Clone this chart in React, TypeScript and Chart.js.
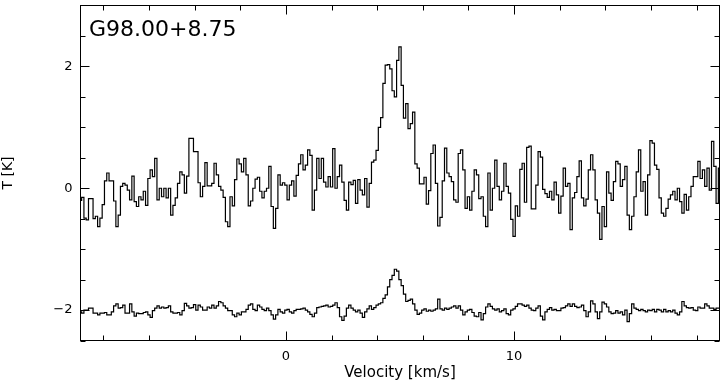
import React, { useEffect, useRef } from "react";
import Chart from "chart.js/auto";

// ---- data ----
const TITLE = "G98.00+8.75";
const X_TITLE = "Velocity [km/s]";
const Y_TITLE = "T [K]";
const X_MIN = -9;
const X_MAX = 19;
const Y_MIN = -2.5;
const Y_MAX = 3;
const X_TICKS = [-8, -6, -4, -2, 0, 2, 4, 6, 8, 10, 12, 14, 16, 18];
const Y_TICKS = [-2.5, -2, -1.5, -1, -0.5, 0, 0.5, 1, 1.5, 2, 2.5];
const X_LABELED = [0, 10];
const Y_LABELED = [-2, 0, 2];
const V_START = -9; // first channel velocity (km/s)
const V_STEP = 0.1; // channel width (km/s)

const UPPER = [
  -0.2, -0.15, -0.49, -0.52, -0.17, -0.17, -0.5, -0.46, -0.63, -0.49,
  -0.27, 0.12, 0.25, 0.12, 0.12, -0.21, -0.63, -0.44, 0.03, 0.08,
  0.05, -0.03, -0.19, 0.2, -0.22, -0.3, -0.14, -0.19, -0.05, -0.28,
  0.16, 0.3, 0.19, 0.49, -0.19, 0, -0.14, 0, -0.16, 0,
  -0.44, -0.28, -0.16, 0.08, 0.27, 0.22, -0.08, 0.2, 0.82, 0.82,
  0.6, 0.6, 0.09, -0.14, 0.03, 0.42, 0.04, 0.04, 0.08, 0.41,
  0.22, 0.03, -0.03, -0.15, -0.55, -0.63, -0.14, -0.29, 0.14, 0.48,
  0.4, 0.27, 0.49, 0.22, -0.29, -0.21, 0, 0.15, 0.18, -0.05,
  -0.16, -0.05, 0, 0.36, -0.3, -0.66, -0.33, 0.22, 0.05, 0.09,
  0.05, -0.19, 0.05, 0.12, -0.13, 0.21, 0.4, 0.55, 0.3, 0.38,
  0.63, 0.54, -0.36, -0.03, 0.49, 0.16, 0.49, 0.1, 0.02, 0.19,
  0.02, 0.65, 0, 0.19, 0.38, 0.1, -0.2, -0.36, 0.1, 0.06,
  0.13, -0.25, 0.14, -0.03, -0.11, 0.16, -0.31, 0.08, 0.43, 0.46,
  0.62, 1.0, 1.16, 1.72, 2.02, 2.03, 1.96, 1.6, 1.5, 2.1,
  2.32, 1.69, 1.15, 1.39, 0.98, 1.06, 1.25, 0.4, 0.33, 0.07,
  0.07, 0.18, -0.26, -0.04, 0.57, 0.71, 0.08, -0.62, -0.48, 0.12,
  0.66, 0.25, 0.19, 0.11, -0.19, -0.23, 0.57, 0.63, 0.3, -0.33,
  -0.14, -0.36, -0.05, 0.3, 0.22, -0.17, -0.14, -0.46, -0.63, 0.25,
  -0.36, 0, 0.46, 0.03, -0.19, -0.05, 0.41, 0.03, -0.08, -0.51,
  -0.79, -0.29, -0.46, 0.31, 0.41, -0.23, 0.67, 0.69, -0.34, -0.34,
  0.05, 0.6, 0.51, -0.02, -0.09, -0.15, -0.05, -0.19, 0.1, -0.11,
  -0.41, -0.13, 0.33, 0.03, 0.08, -0.68, -0.16, -0.07, 0.19, 0.45,
  -0.16, -0.29, -0.18, 0.3, 0.55, 0.3, -0.19, -0.41, -0.84, -0.3,
  -0.63, 0.27, -0.08, -0.2, 0.11, 0.44, 0.4, 0.03, 0.14, 0.36,
  -0.44, -0.68, -0.46, -0.14, 0.27, 0.63, -0.05, 0.11, -0.44, 0.22,
  0.78, 0.74, 0.38, 0.31, -0.16, -0.41, -0.46, -0.33, -0.18, -0.11,
  -0.05, -0.19, 0, -0.22, -0.41, -0.1, -0.36, -0.14, 0.03, 0.19,
  0.19, 0.44, 0.16, 0.3, 0.03, 0.33, -0.03, 0.77, 0.36, -0.25,
  0.33,
];

const LOWER = [
  -2.03, -2.05, -2.0, -2.0, -1.97, -1.97, -2.05, -2.05, -2.08, -2.05,
  -2.05, -2.04, -2.08, -2.08, -2.03, -1.93, -1.9, -1.97, -1.96, -1.92,
  -2.05, -2.05, -1.9, -2.03, -2.1, -2.05, -2.06, -2.06, -2.04, -2.03,
  -2.08, -2.12, -2.01, -1.97, -1.93, -1.97, -1.95, -1.97, -1.96, -1.93,
  -2.03, -2.05, -2.05, -2.04, -2.08, -2.01, -1.89, -1.93, -1.97, -1.96,
  -1.91, -2.0, -1.92, -1.95, -2.0, -2.0, -1.95, -1.97, -1.92, -1.97,
  -1.93, -1.86, -1.88, -1.93, -1.97, -2.01, -2.01, -2.08, -2.11, -2.05,
  -2.08, -2.03, -2.03, -1.99, -1.92, -1.9, -1.99, -2.01, -1.92, -1.95,
  -1.99, -2.01, -1.97, -2.01, -2.08, -2.15, -2.08, -1.99, -2.03, -2.05,
  -2.0, -1.99, -2.03, -2.05, -2.01, -1.99, -1.99, -1.98, -1.97, -2.0,
  -2.03, -2.07, -2.11, -2.05, -1.96, -1.95, -1.94, -1.93, -1.92, -1.95,
  -1.94, -1.92, -1.88, -1.96, -2.11, -2.17, -2.1, -1.97, -1.92, -1.97,
  -2.0, -2.03, -2.0, -2.05, -2.12, -2.03, -1.98, -1.93, -1.99, -1.96,
  -1.92, -1.9, -1.88, -1.81, -1.75, -1.62, -1.5, -1.43, -1.33, -1.36,
  -1.5, -1.6, -1.74, -1.86, -1.84, -1.82, -1.9, -2.0, -2.07, -2.05,
  -2.0, -1.98, -2.02, -2.0, -2.02, -2.0, -1.98, -1.82, -1.98, -2.0,
  -1.97, -1.99, -1.97, -1.95, -1.93, -1.97, -1.93, -2.0, -2.08, -2.03,
  -2.0, -1.99, -2.04, -2.1, -2.11, -2.04, -2.16, -2.06, -1.95, -1.9,
  -1.94, -1.98, -2.0, -1.98, -2.03, -2.01, -1.98, -2.06, -2.08, -2.0,
  -1.98, -1.94, -1.9, -1.9, -1.92, -1.94, -1.92, -1.97, -2.0, -2.01,
  -1.97, -1.93, -2.1, -2.16, -2.03, -1.99, -1.96, -2.0, -1.99, -2.01,
  -2.01, -1.97, -1.96, -1.93, -1.9, -1.94, -1.9, -1.94, -1.96, -1.95,
  -1.92, -2.01, -2.11, -2.03, -1.85, -1.9, -2.03, -2.14, -2.03, -1.87,
  -1.9, -1.95, -2.03, -2.06, -2.05, -2.01, -2.05, -2.03, -2.08, -2.0,
  -2.19, -2.06, -1.9, -1.97, -1.99, -2.01, -1.99, -2.01, -2.03, -2.0,
  -2.01, -1.99, -2.03, -1.99, -2.0, -2.03, -1.99, -2.03, -2.01, -2.03,
  -2.0, -2.05, -2.08, -2.03, -1.86, -1.93, -1.96, -1.97, -1.96, -2.0,
  -2.01, -1.95, -1.97, -1.97, -1.9, -1.93, -1.97, -1.97, -1.99, -1.97,
  -1.97,
];

const FONT_FAMILY = '"DejaVu Sans", "Liberation Sans", sans-serif';

function fmtLabel(v: number): string {
  const r = Math.round(v);
  return r < 0 ? "\u2212" + Math.abs(r) : String(r);
}
function isIn(list: number[], v: number) {
  return list.some((l) => Math.abs(l - v) < 1e-6);
}

const framePlugin = {
  id: "frameTicks",
  afterDatasetsDraw(chart: any) {
    const { ctx, chartArea } = chart;
    const { left, right, top, bottom } = chartArea;
    const xs = chart.scales.x;
    const ys = chart.scales.y;
    ctx.save();
    ctx.strokeStyle = "#000";
    ctx.lineWidth = 1;
    ctx.strokeRect(left, top, right - left, bottom - top);
    ctx.beginPath();
    xs.ticks.forEach((t: any) => {
      const px = Math.round(xs.getPixelForValue(t.value)) + 0.5;
      const major = isIn(X_LABELED, t.value);
      const len = major ? 9 : 5;
      ctx.moveTo(px, bottom);
      ctx.lineTo(px, bottom - len);
      ctx.moveTo(px, top);
      ctx.lineTo(px, top + len);
    });
    ys.ticks.forEach((t: any) => {
      const py = Math.round(ys.getPixelForValue(t.value)) + 0.5;
      const major = isIn(Y_LABELED, t.value);
      const len = major ? 9 : 5;
      ctx.moveTo(left, py);
      ctx.lineTo(left + len, py);
      ctx.moveTo(right, py);
      ctx.lineTo(right - len, py);
    });
    ctx.stroke();
    ctx.fillStyle = "#000";
    ctx.font = "22px " + FONT_FAMILY;
    ctx.textBaseline = "alphabetic";
    ctx.textAlign = "left";
    ctx.fillText(TITLE, left + 8.5, top + 30);
    ctx.restore();
  },
};

export default function App() {
  const ref = useRef<HTMLCanvasElement | null>(null);

  useEffect(() => {
    if (!ref.current) return;
    const velocity = UPPER.map((_, i) => +(V_START + i * V_STEP).toFixed(3));
    const upper = UPPER.map((y, i) => ({ x: velocity[i], y }));
    const lower = LOWER.map((y, i) => ({ x: velocity[i], y }));
    const tickFont = { family: FONT_FAMILY, size: 13 };
    const chart = new Chart(ref.current, {
      type: "line",
      data: {
        datasets: [
          {
            data: upper,
            borderColor: "#000",
            borderWidth: 1.2,
            pointRadius: 0,
            stepped: "middle",
            fill: false,
          },
          {
            data: lower,
            borderColor: "#000",
            borderWidth: 1.2,
            pointRadius: 0,
            stepped: "middle",
            fill: false,
          },
        ],
      },
      options: {
        animation: false,
        responsive: false,
        devicePixelRatio: 1,
        layout: { padding: { top: 5.5, right: 4.5, left: 0, bottom: 0 } },
        plugins: {
          legend: { display: false },
          tooltip: { enabled: false },
        },
        scales: {
          x: {
            type: "linear",
            min: X_MIN,
            max: X_MAX,
            grid: { display: false, drawTicks: false },
            border: { display: false },
            afterBuildTicks: (s: any) => {
              s.ticks = X_TICKS.map((value) => ({ value }));
            },
            ticks: {
              autoSkip: false,
              maxRotation: 0,
              padding: 8,
              color: "#000",
              font: tickFont,
              callback: (v: any) => (isIn(X_LABELED, Number(v)) ? fmtLabel(Number(v)) : ""),
            },
            title: {
              display: true,
              text: X_TITLE,
              color: "#000",
              font: { family: FONT_FAMILY, size: 15 },
              padding: { top: 0, bottom: 1.5 },
            },
            afterFit: (s: any) => {
              s.height = 43.5;
              s.paddingLeft = 0;
              s.paddingRight = 0;
            },
          },
          y: {
            type: "linear",
            min: Y_MIN,
            max: Y_MAX,
            grid: { display: false, drawTicks: false },
            border: { display: false },
            afterBuildTicks: (s: any) => {
              s.ticks = Y_TICKS.map((value) => ({ value }));
            },
            ticks: {
              autoSkip: false,
              padding: 8,
              color: "#000",
              font: tickFont,
              callback: (v: any) => (isIn(Y_LABELED, Number(v)) ? fmtLabel(Number(v)) : ""),
            },
            title: {
              display: true,
              text: Y_TITLE,
              color: "#000",
              font: { family: FONT_FAMILY, size: 14 },
              padding: { top: 0, bottom: 0 },
            },
            afterFit: (s: any) => {
              s.width = 80.5;
              s.paddingTop = 0;
              s.paddingBottom = 0;
            },
          },
        },
      } as any,
      plugins: [framePlugin],
    });
    return () => chart.destroy();
  }, []);

  return (
    <div style={{ position: "absolute", left: 0, top: 0, width: 724, height: 384, background: "#fff" }}>
      <canvas ref={ref} width={724} height={384} style={{ display: "block" }} />
    </div>
  );
}
